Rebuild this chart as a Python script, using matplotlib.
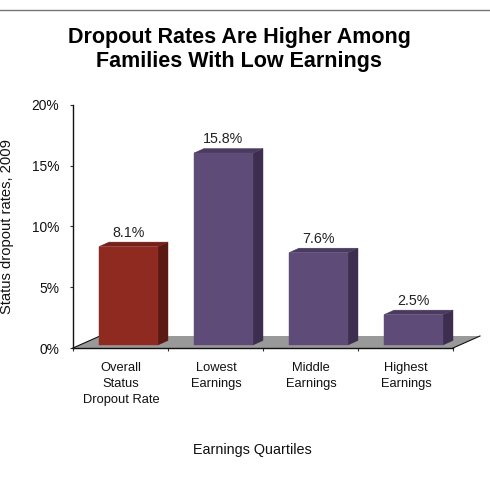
import matplotlib
matplotlib.use("Agg")
import matplotlib.pyplot as plt
from matplotlib.patches import Polygon
from matplotlib.lines import Line2D

plt.rcParams['font.family'] = ['Liberation Sans', 'DejaVu Sans']

categories = ["Overall\nStatus\nDropout Rate", "Lowest\nEarnings", "Middle\nEarnings", "Highest\nEarnings"]
values = [8.1, 15.8, 7.6, 2.5]
labels = ["8.1%", "15.8%", "7.6%", "2.5%"]
yticks = [0, 5, 10, 15, 20]
front_colors = ["#8F2A20", "#5F4B78", "#5F4B78", "#5F4B78"]
side_colors = ["#5A1A13", "#3D2E50", "#3D2E50", "#3D2E50"]
top_colors = ["#74211A", "#4A3A60", "#4A3A60", "#4A3A60"]

W, H = 490, 479
fig = plt.figure(figsize=(W/100, H/100), dpi=100, facecolor="white")
L, R, T, B = 73, 453, 105, 348
ax = fig.add_axes([L/W, 1-B/H, (R-L)/W, (B-T)/H])
ax.set_xlim(0, 4)
ax.set_ylim(0, 20)

px_x = 4/(R-L)      # data units per pixel
px_y = 20/(B-T)

# floor
fdx, fdy = 27*px_x, 12*px_y
ax.add_patch(Polygon([(0, 0), (4, 0), (4+fdx, fdy), (fdx, fdy)], closed=True,
                     facecolor="#999999", edgecolor="none", clip_on=False, zorder=1))
ax.plot([4, 4+fdx], [0, fdy], color="#111111", lw=0.8, clip_on=False, zorder=2)
ax.plot([0, fdx], [0, fdy], color="#111111", lw=0.8, clip_on=False, zorder=2)

# bars
shift, lift = 8*px_x, 3*px_y
width = 59*px_x
ddx, ddy = 10*px_x, 4.5*px_y
for i, v in enumerate(values):
    x0 = i + 0.5 + shift - width/2
    x1 = x0 + width
    y0, y1 = lift, lift + v
    ax.add_patch(Polygon([(x1, y0), (x1+ddx, y0+ddy), (x1+ddx, y1+ddy), (x1, y1)], closed=True,
                         facecolor=side_colors[i], edgecolor=side_colors[i], lw=0.3, zorder=3, clip_on=False))
    ax.add_patch(Polygon([(x0, y1), (x1, y1), (x1+ddx, y1+ddy), (x0+ddx, y1+ddy)], closed=True,
                         facecolor=top_colors[i], edgecolor=top_colors[i], lw=0.3, zorder=3, clip_on=False))
    ax.bar(x0 + width/2, v, width, bottom=lift, color=front_colors[i], edgecolor=front_colors[i],
           lw=0.3, zorder=3.5, clip_on=False)
    ax.annotate(labels[i], xy=(x0 + width/2, y1), xytext=(0, 7), textcoords="offset pixels",
                ha="center", va="bottom", fontsize=10.3, color="#222222", zorder=4)

# axes
for s in ("top", "right"):
    ax.spines[s].set_visible(False)
for s in ("left", "bottom"):
    ax.spines[s].set_linewidth(1.0)
    ax.spines[s].set_color("#111111")
    ax.spines[s].set_zorder(5)
ax.set_yticks(yticks)
ax.set_yticklabels([f"{t}%" for t in yticks], fontsize=9.9, color="#111111")
ax.set_xticks(range(5))
ax.set_xticklabels([])
ax.tick_params(axis="both", length=2.4, width=0.8, color="#333333")
ax.tick_params(axis="y", pad=7.5)

for i, c in enumerate(categories):
    ax.annotate(c, xy=(i + 0.5, 0), xytext=(0.5, -14), textcoords="offset pixels",
                ha="center", va="top", fontsize=9.3, color="#111111", linespacing=1.45,
                annotation_clip=False)

fig.text(252/W, 1-450/H, "Earnings Quartiles", ha="center", va="center", fontsize=10.4, color="#111111")
fig.text(7.5/W, 1-227/H, "Status dropout rates, 2009", rotation=90, ha="center", va="center",
         fontsize=10.6, color="#111111")
fig.text(239/W, 1-49.5/H, "Dropout Rates Are Higher Among\nFamilies With Low Earnings", ha="center", va="center",
         fontsize=15.5, fontweight="bold", color="black", linespacing=1.22)

fig.add_artist(Line2D([0, 1], [1-10/H, 1-10/H], color="#777777", lw=1.0))

fig.savefig("out.png", dpi=100, facecolor="white")
